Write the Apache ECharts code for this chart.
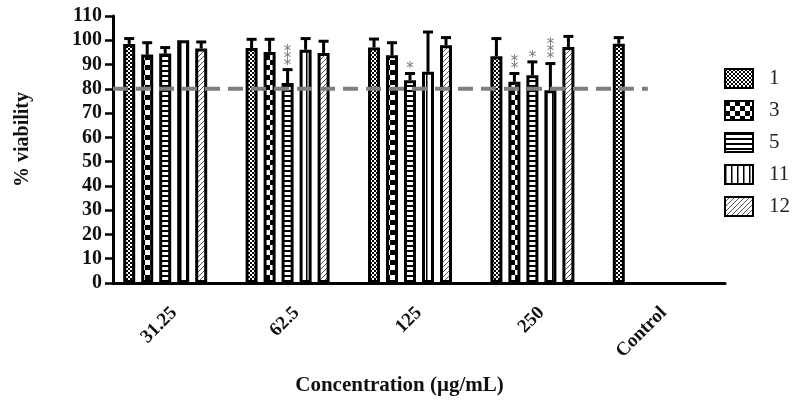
<!DOCTYPE html>
<html>
<head>
<meta charset="utf-8">
<script src="https://cdn.jsdelivr.net/npm/echarts@6/dist/echarts.min.js"></script>
<style>html,body{margin:0;padding:0;background:#fff;}#c{width:799px;height:405px;}</style>
</head>
<body>
<div id="c"></div>
<script>
// ---- data ----
const categories = ['31.25', '62.5', '125', '250', 'Control'];
const seriesNames = ['1', '3', '5', '11', '12'];
const values1  = [98.5, 96.8, 97.0, 93.4, 98.6];
const errors1  = [2.2, 3.6, 3.5, 7.3, 2.5];
const stars1   = [0, 0, 0, 0, 0];
const values3  = [94.1, 95.2, 93.8, 82.9, null];
const errors3  = [4.9, 5.2, 5.2, 3.4, null];
const stars3   = [0, 0, 0, 2, 0];
const values5  = [94.5, 82.4, 83.5, 85.6, null];
const errors5  = [2.5, 5.5, 2.8, 5.5, null];
const stars5   = [0, 3, 1, 1, 0];
const values11 = [100.0, 96.1, 87.0, 79.4, null];
const errors11 = [0, 4.6, 16.4, 11.0, null];
const stars11  = [0, 0, 0, 3, 0];
const values12 = [96.6, 94.8, 97.9, 97.2, null];
const errors12 = [2.7, 4.8, 3.2, 4.4, null];
const stars12  = [0, 0, 0, 0, 0];
const yMin = 0, yMax = 110, yInterval = 10;
const threshold = 80;
const thresholdSpan = [0, 0.874];

const allValues = [values1, values3, values5, values11, values12];
const allErrors = [errors1, errors3, errors5, errors11, errors12];
const allStars  = [stars1, stars3, stars5, stars11, stars12];

// ---- patterns ----
function pat(w, h, draw) {
  const c = document.createElement('canvas');
  c.width = w; c.height = h;
  const ctx = c.getContext('2d');
  ctx.fillStyle = '#fff'; ctx.fillRect(0, 0, w, h);
  draw(ctx, w, h);
  return { image: c, repeat: 'repeat' };
}
const patterns = [
  pat(4, 4, (g) => { g.fillStyle = '#000'; g.fillRect(0, 0, 2, 2); g.fillRect(2, 2, 2, 2); }),
  pat(10, 10, (g) => { g.fillStyle = '#000'; g.fillRect(0, 0, 5, 5); g.fillRect(5, 5, 5, 5); }),
  pat(4, 5, (g) => { g.fillStyle = '#000'; g.fillRect(0, 0, 4, 2); }),
  pat(6, 4, (g) => { g.fillStyle = '#000'; g.fillRect(0, 0, 1.5, 4); }),
  pat(5, 5, (g) => {
    g.strokeStyle = '#555'; g.lineWidth = 1;
    g.beginPath(); g.moveTo(-1, 6); g.lineTo(6, -1); g.stroke();
    g.beginPath(); g.moveTo(-1, 1); g.lineTo(1, -1); g.stroke();
    g.beginPath(); g.moveTo(4, 6); g.lineTo(6, 4); g.stroke();
  })
];

const BAR_W = 12, GAP = 6, SLOTS = 6;
const groupW = SLOTS * BAR_W + (SLOTS - 1) * GAP;
const serif = 'Liberation Serif';

const series = [];
seriesNames.forEach((name, i) => {
  series.push({
    name: name, type: 'bar',
    data: allValues[i].map(v => v == null ? '-' : v),
    barWidth: BAR_W, barGap: (GAP / BAR_W * 100) + '%',
    itemStyle: { color: patterns[i], borderColor: '#000', borderWidth: 3 },
    emphasis: { disabled: true }, animation: false, z: 2
  });
});
// hidden sixth slot (Prism leaves room for it in each group)
series.push({ name: '_pad', type: 'bar', data: categories.map(() => '-'), barWidth: BAR_W, silent: true });

const errData = [];
allValues.forEach((arr, s) => {
  arr.forEach((v, c) => {
    if (v != null) errData.push([c, s, v, allErrors[s][c], allStars[s][c]]);
  });
});
series.push({
  type: 'custom', name: 'err', silent: true, animation: false, z: 3,
  data: errData, encode: { x: 0, y: 2 },
  renderItem: function (params, api) {
    const c = api.value(0), s = api.value(1), v = api.value(2), e = api.value(3), st = api.value(4);
    const base = api.coord([c, v]);
    const x = base[0] - groupW / 2 + BAR_W / 2 + s * (BAR_W + GAP);
    const yTop = api.coord([c, v + e])[1];
    const ls = { stroke: '#000', lineWidth: 3 };
    const children = [];
    if (e > 0) {
      children.push({ type: 'line', shape: { x1: x, y1: base[1], x2: x, y2: yTop }, style: ls });
      children.push({ type: 'line', shape: { x1: x - 5, y1: yTop, x2: x + 5, y2: yTop }, style: ls });
    }
    for (let k = 0; k < st; k++) {
      children.push({ type: 'text', style: { text: '*', x: x, y: yTop - 4 - 7 * k, align: 'center', verticalAlign: 'middle', fill: '#777', font: '15px "DejaVu Sans"' } });
    }
    return { type: 'group', children: children };
  }
});
series.push({
  type: 'line', name: 'thr', xAxisIndex: 1, silent: true, animation: false, z: 5,
  data: [[thresholdSpan[0], threshold], [thresholdSpan[1], threshold]],
  symbol: 'none', lineStyle: { color: '#7f7f7f', width: 4, type: [15, 8] }
});

const chart = echarts.init(document.getElementById('c'), null, { renderer: 'canvas' });
chart.setOption({
  animation: false,
  backgroundColor: '#fff',
  title: { text: 'Concentration (μg/mL)', left: 'center', top: 370,
    textStyle: { fontFamily: serif, fontWeight: 'bold', fontSize: 21, color: '#111' } },
  legend: {
    data: seriesNames, orient: 'vertical', left: 719, top: 63,
    itemWidth: 28, itemHeight: 19, itemGap: 11, icon: 'rect', selectedMode: false,
    textStyle: { fontFamily: serif, fontSize: 21, color: '#222', padding: [0, 0, 0, 11] }
  },
  grid: { left: 113, right: 74, top: 16, bottom: 122, containLabel: false },
  xAxis: [{
    type: 'category', data: categories, boundaryGap: true,
    axisLine: { lineStyle: { color: '#000', width: 3 } },
    axisTick: { alignWithLabel: true, interval: 0, length: 9, lineStyle: { color: '#000', width: 2.5 } },
    axisLabel: { interval: 0, rotate: 45, margin: 27, fontFamily: serif, fontWeight: 'bold', fontSize: 19, color: '#111' }
  }, {
    type: 'value', min: 0, max: 1, show: false
  }],
  yAxis: {
    type: 'value', min: yMin, max: yMax, interval: yInterval,
    name: '% viability', nameLocation: 'middle', nameGap: 80,
    nameTextStyle: { fontFamily: serif, fontWeight: 'bold', fontSize: 20, color: '#111', padding: [0, 0, 0, 20] },
    axisLine: { show: true, lineStyle: { color: '#000', width: 3 } },
    axisTick: { show: true, length: 8, lineStyle: { color: '#000', width: 2.5 } },
    axisLabel: { margin: 11, fontFamily: serif, fontWeight: 'bold', fontSize: 20, color: '#111' },
    splitLine: { show: false }
  },
  series: series
});
</script>
</body>
</html>
